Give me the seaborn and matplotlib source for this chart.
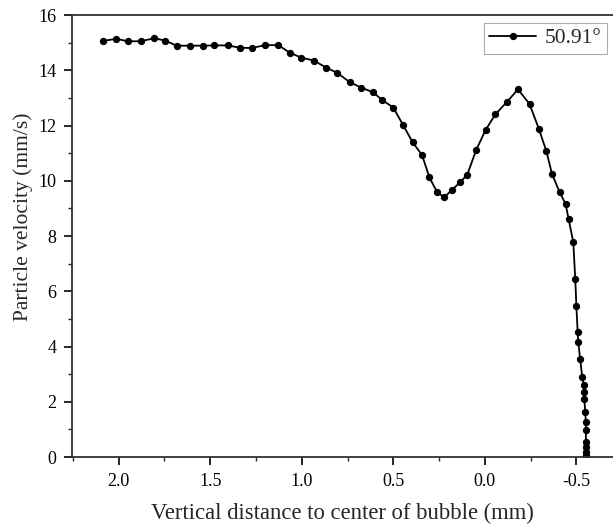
import matplotlib
matplotlib.use("Agg")
import matplotlib.pyplot as plt
import seaborn as sns
import pandas as pd
from matplotlib.ticker import MultipleLocator

distance_mm = [2.086, 2.013, 1.951, 1.880, 1.805, 1.745, 1.684, 1.611, 1.541, 1.477,
               1.404, 1.335, 1.271, 1.199, 1.128, 1.067, 1.003, 0.933, 0.868, 0.807,
               0.736, 0.674, 0.610, 0.560, 0.500, 0.447, 0.394, 0.343, 0.303, 0.260,
               0.222, 0.178, 0.136, 0.096, 0.047, -0.005, -0.058, -0.120, -0.181, -0.244,
               -0.295, -0.336, -0.367, -0.409, -0.441, -0.458, -0.483,
               -0.494, -0.500, -0.507, -0.510, -0.521, -0.532, -0.540, -0.542, -0.543,
               -0.549, -0.551, -0.552, -0.552, -0.553, -0.553, -0.554, -0.554]
velocity_mm_s = [15.06, 15.14, 15.05, 15.05, 15.16, 15.07, 14.89, 14.89, 14.89, 14.90,
                 14.90, 14.81, 14.81, 14.91, 14.91, 14.64, 14.46, 14.35, 14.10, 13.91,
                 13.56, 13.37, 13.20, 12.92, 12.65, 12.02, 11.39, 10.93, 10.12, 9.58,
                 9.40, 9.68, 9.94, 10.22, 11.12, 11.85, 12.41, 12.85, 13.31, 12.78,
                 11.88, 11.07, 10.24, 9.58, 9.16, 8.60, 7.78,
                 6.43, 5.45, 4.52, 4.17, 3.53, 2.89, 2.62, 2.34, 2.09,
                 1.62, 1.28, 0.98, 0.55, 0.36, 0.18, 0.06, 0.0]
series_label = "50.91°"
x_ticks = [2.0, 1.5, 1.0, 0.5, 0.0, -0.5]
y_ticks = [0, 2, 4, 6, 8, 10, 12, 14, 16]

df = pd.DataFrame({"x": distance_mm, "y": velocity_mm_s})

sns.set_style("ticks")
plt.rcParams["font.family"] = ["Liberation Serif", "DejaVu Serif"]
plt.rcParams["mathtext.fontset"] = "stix"

fig = plt.figure(figsize=(6.13, 5.29), dpi=100)
ax = fig.add_axes([0.1175, 0.1361, 0.8825, 0.8355])

sns.lineplot(data=df, x="x", y="y", sort=False, estimator=None, ax=ax,
             color="black", marker="o", markersize=4.5, markeredgecolor="black",
             linewidth=1.3, label=series_label)

ax.set_xlim(2.255, -0.70)
ax.set_ylim(0, 16)
ax.set_xticks(x_ticks)
ax.set_xticklabels([f"{t:.1f}" for t in x_ticks])
ax.set_yticks(y_ticks)
ax.xaxis.set_minor_locator(MultipleLocator(0.25))
ax.yaxis.set_minor_locator(MultipleLocator(1))
ax.tick_params(axis="both", which="major", direction="out", length=6, width=1.2,
               labelsize=13, colors="black")
ax.tick_params(axis="x", which="major", pad=5.5)
ax.tick_params(axis="y", which="major", pad=5)
ax.tick_params(axis="both", which="minor", direction="out", length=3, width=1.0)
ax.tick_params(top=False, right=False, which="both")

for s in ["left", "bottom", "top"]:
    ax.spines[s].set_visible(True)
    ax.spines[s].set_color("#333333")
    ax.spines[s].set_linewidth(1.3)
ax.spines["right"].set_visible(False)

ax.set_xlabel("Vertical distance to center of bubble (mm)", fontsize=16.3, labelpad=9)
ax.set_ylabel("Particle velocity (mm/s)", fontsize=15.5, va="center")
ax.yaxis.set_label_coords(-0.091, 0.543)

leg = ax.legend(loc="upper right", bbox_to_anchor=(0.989, 0.982), fontsize=15.5,
                frameon=True, fancybox=False, handlelength=2.2, borderpad=0.25,
                handletextpad=0.4, borderaxespad=0.0)
leg.get_frame().set_edgecolor("#999999")
leg.get_frame().set_linewidth(0.8)

fig.savefig("out.png", dpi=100)
